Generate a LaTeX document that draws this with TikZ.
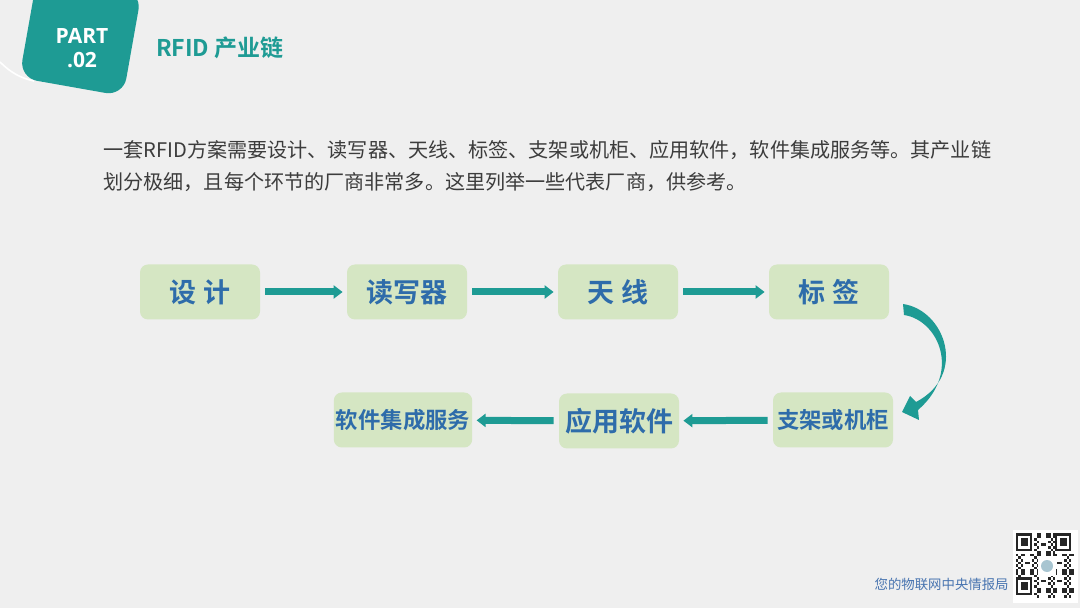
\documentclass[tikz,border=0pt]{standalone}
\usepackage{fontspec}
\usetikzlibrary{arrows.meta,positioning}
\newfontfamily\cjk{Noto Sans CJK SC}[BoldFont={Noto Sans CJK SC Bold}]
\newfontfamily\partfont{Open Sans}[BoldFont={Open Sans Bold}]
\definecolor{pageGray}{RGB}{239,239,239}
\definecolor{chainTeal}{RGB}{30,155,148}
\definecolor{stageFill}{RGB}{213,230,195}
\definecolor{stageBlue}{RGB}{46,108,170}
\definecolor{bodyGray}{RGB}{60,60,60}
\definecolor{footBlue}{RGB}{72,116,176}
\tikzset{
  stagebox/.style={fill=stageFill, rounded corners=4pt, minimum width=60pt,
    minimum height=27.5pt, inner sep=1pt, text=stageBlue},
  flow/.style={draw=chainTeal, line width=3.5pt,
    -{Triangle[length=4.5pt,width=6.5pt]}, shorten >=2pt, shorten <=2.5pt}
}
\begin{document}
\begin{tikzpicture}[x=0.5pt, y=-0.5pt]
    \fill[pageGray] (0,0) rectangle (1080,608);
    \useasboundingbox (0,0) rectangle (1080,608);

    % badge
    \begin{scope}
      \clip (0,0) rectangle (1080,608);
      \fill[chainTeal, rounded corners=9pt] (37.7,-26.2) -- (19.3,77.7) -- (123.2,96.1) -- (141.6,-7.8) -- cycle;
    \end{scope}
    \draw[white, line width=0.8pt] (0,62) .. controls (10,72) and (20,78) .. (34,81);
    \node[align=center, text=white, font=\partfont\bfseries\fontsize{10.5pt}{12pt}\selectfont] (part) at (82,48) {PART\\.02};
    \node[anchor=west, text=chainTeal, font=\cjk\bfseries\fontsize{11.5pt}{12pt}\selectfont] (title) at (149,48) {RFID 产业链};

    \node[anchor=west, align=left, text=bodyGray, inner sep=0pt, font=\cjk\fontsize{10.05pt}{16pt}\selectfont] (intro) at (103,166)
      {一套RFID方案需要设计、读写器、天线、标签、支架或机柜、应用软件，软件集成服务等。其产业链\\划分极细，且每个环节的厂商非常多。这里列举一些代表厂商，供参考。};

    % upper row
    \node[stagebox, font=\cjk\bfseries\fontsize{13.5pt}{14pt}\selectfont] (design) at (200,292) {设 计};
    \node[stagebox, font=\cjk\bfseries\fontsize{13.5pt}{14pt}\selectfont] (reader) at (407,292) {读写器};
    \node[stagebox, font=\cjk\bfseries\fontsize{13.5pt}{14pt}\selectfont] (antenna) at (618,292) {天 线};
    \node[stagebox, font=\cjk\bfseries\fontsize{13.5pt}{14pt}\selectfont] (tag) at (829,292) {标 签};

    % lower row
    \node[stagebox, font=\cjk\bfseries\fontsize{11.2pt}{12pt}\selectfont] (rack) at (833,420) {支架或机柜};
    \node[stagebox, font=\cjk\bfseries\fontsize{13.5pt}{14pt}\selectfont] (app) at (619,421) {应用软件};
    \node[stagebox, minimum width=68.5pt, font=\cjk\bfseries\fontsize{11.2pt}{12pt}\selectfont] (integ) at (403,420) {软件集成服务};

    \draw[flow] (design) -- (reader);
    \draw[flow] (reader) -- (antenna);
    \draw[flow] (antenna) -- (tag);
    \draw[flow] (rack) -- (app);
    \draw[flow] (app) -- (integ);

    % bend from tag down to rack
    \fill[chainTeal] (903,304) .. controls (945,310) and (968,375) .. (916,402)
      -- (910,396) -- (902,412) -- (919,420) -- (918,410)
      .. controls (962,372) and (938,320) .. (904,315) -- cycle;

    % qr code
    \fill[white] (1013,530) rectangle (1078,603);
    \foreach \i in {0,...,24}
      \foreach \j in {0,...,24} {
        \pgfmathtruncatemacro\qv{mod(\i*\i*3+\j*\j*5+\i*\j*7+\i+2*\j,7)}
        \ifnum\qv<3 \fill[black!85] ({1016+\i*2.3},{533+\j*2.6}) rectangle ++(2.3,2.6); \fi
      }
    \foreach \fx/\fy in {0/0, 17/0, 0/17} {
      \fill[white] ({1016+\fx*2.3},{533+\fy*2.6}) rectangle ++(18.4,20.8);
      \fill[black!85] ({1016+\fx*2.3},{533+\fy*2.6}) rectangle ++(16.1,18.2);
      \fill[white] ({1016+\fx*2.3+2.3},{533+\fy*2.6+2.6}) rectangle ++(11.5,13);
      \fill[black!85] ({1016+\fx*2.3+4.6},{533+\fy*2.6+5.2}) rectangle ++(6.9,7.8);
    }
    \fill[white] (1038,556) rectangle (1056,576);
    \fill[cyan!35!gray!60] (1047,566) circle (6);
    \node[anchor=east, text=footBlue, inner sep=0pt, font=\cjk\fontsize{6.7pt}{7pt}\selectfont] (foot) at (1009,584) {您的物联网中央情报局};
\end{tikzpicture}
\end{document}
